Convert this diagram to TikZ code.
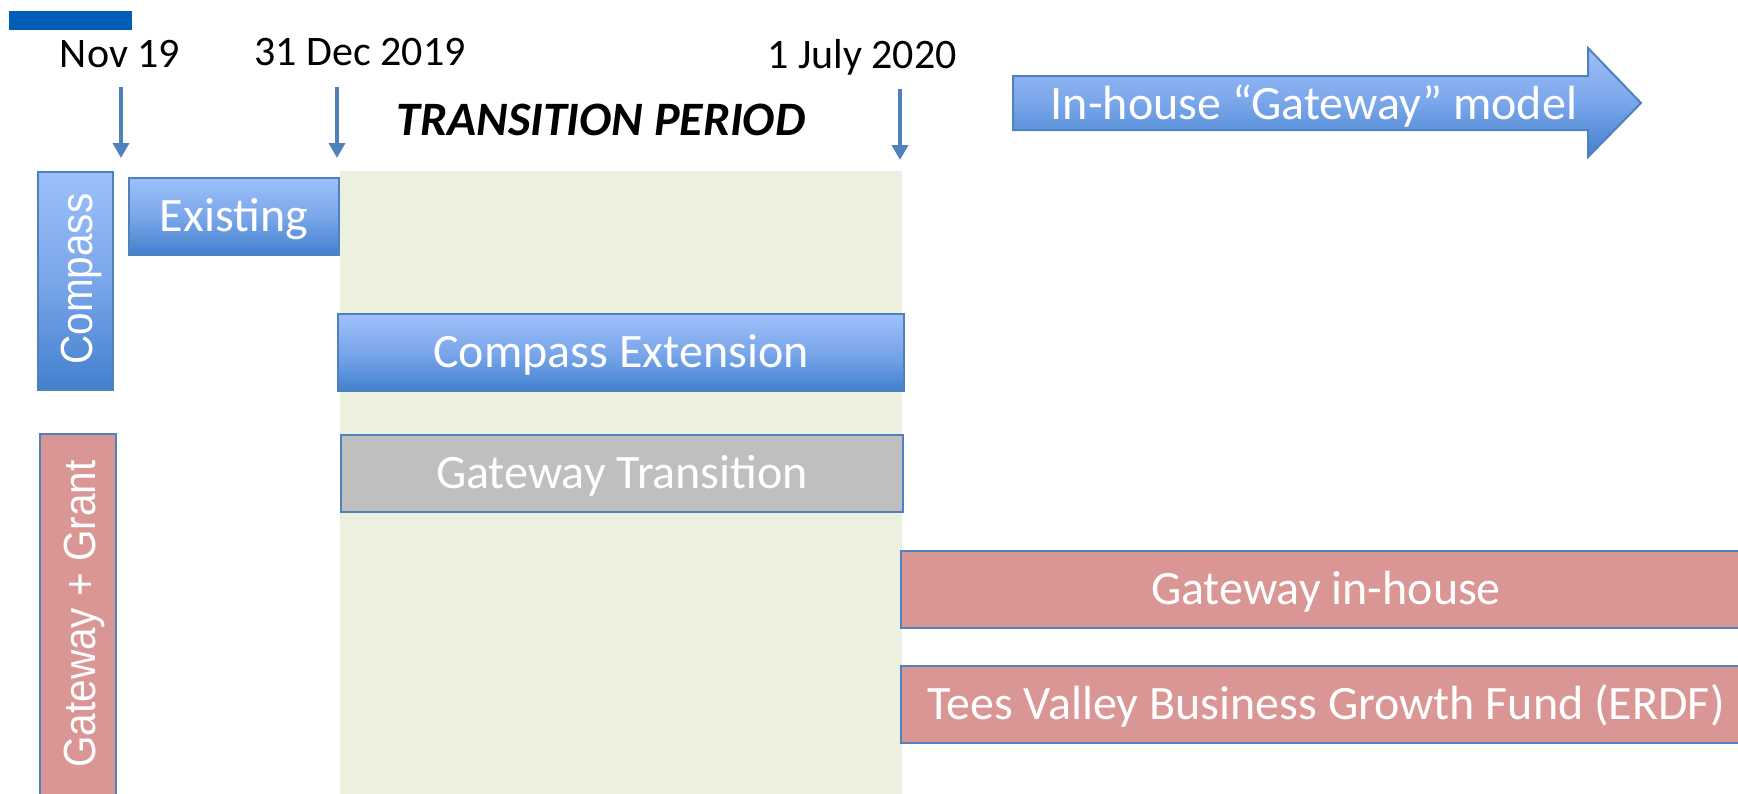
\documentclass[tikz,border=0pt]{standalone}
\usepackage{fontspec}
\usepackage{graphicx}
\setmainfont{Carlito}
\newfontfamily\vfont{Liberation Sans}
\usetikzlibrary{arrows.meta}
\definecolor{bord}{HTML}{4F81BD}
\definecolor{btop}{HTML}{9DC0FA}
\definecolor{bmid}{HTML}{7AA6EA}
\definecolor{bbot}{HTML}{4280CD}
\definecolor{redf}{HTML}{D99694}
\definecolor{grayf}{HTML}{BFBFBF}
\definecolor{greenf}{HTML}{EBF0DF}
\definecolor{barblue}{HTML}{005EB8}
\tikzset{
  boxbase/.style={rectangle, anchor=north west, inner sep=0pt, draw=bord, line width=2pt,
    text=white, font=\fontsize{48}{52}\selectfont, text height=30.5pt, text depth=0pt},
  bluebox/.style={boxbase, top color=btop, bottom color=bbot, middle color=bmid},
  redbox/.style={boxbase, fill=redf},
  graybox/.style={boxbase, fill=grayf},
  vlabel/.style={rectangle, anchor=north west, inner sep=0pt, draw=bord, line width=2pt},
  vtext/.style={rotate=90, text=white, inner sep=0pt, font=\vfont\fontsize{45}{50}\selectfont,
    text height=32pt, text depth=0pt},
  datelbl/.style={anchor=base, inner sep=0pt, font=\fontsize{42}{46}\selectfont, text=black},
  darr/.style={draw=bord, line width=4pt, -{Triangle[width=16pt,length=15pt]}},
}
\begin{document}
\begin{tikzpicture}[x=1pt,y=-1pt]
\useasboundingbox (0,0) rectangle (1738,793);
% transition period background
\fill[greenf] (340,171) rectangle (902,800);
% top-left blue bar
\fill[barblue] (9,11) rectangle (132,30);
% dates
\node[datelbl] (nov) at (120,67) {Nov 19};
\node[datelbl] (dec) at (360,65) {31 Dec 2019};
\node[datelbl] (jul) at (862,68) {1 July 2020};
\node[anchor=base, inner sep=0pt, font=\bfseries\itshape\fontsize{48}{52}\selectfont] (tp) at (601,135) {TRANSITION PERIOD};
% down arrows
\coordinate (a1s) at (121,87); \coordinate (a1e) at (121,158);
\coordinate (a2s) at (337,87); \coordinate (a2e) at (337,158);
\coordinate (a3s) at (900,89); \coordinate (a3e) at (900,160);
\draw[darr] (a1s) -- (a1e);
\draw[darr] (a2s) -- (a2e);
\draw[darr] (a3s) -- (a3e);
% big arrow
\path[draw=bord, line width=2pt, top color=btop, bottom color=bbot, middle color=bmid]
  (1013,76) -- (1588,76) -- (1588,48) -- (1641,103) -- (1588,157) -- (1588,130) -- (1013,130) -- cycle;
\node[anchor=base, inner sep=0pt, text=white, font=\fontsize{48}{52}\selectfont] (model) at (1314,119) {In-house “Gateway” model};
% vertical group labels
\node[vlabel, top color=btop, bottom color=bbot, middle color=bmid, minimum width=75pt, minimum height=218pt] (compass) at (37,171) {};
\node[vtext] (compasst) at (76,279) {\scalebox{0.9}[1]{Compass}};
\node[vlabel, fill=redf, minimum width=76pt, minimum height=380pt] (gg) at (39,433) {};
\node[vtext] (ggt) at (79,614) {\scalebox{0.9}[1]{Gateway + Grant}};
% boxes
\node[bluebox, minimum width=210pt, minimum height=77pt] (exist) at (128,177) {Existing};
\node[bluebox, minimum width=566pt, minimum height=77pt] (cext) at (337,313) {Compass Extension};
\node[graybox, minimum width=562pt, minimum height=77pt] (gtrans) at (340,434) {Gateway Transition};
\node[redbox, minimum width=850pt, minimum height=77pt] (ginh) at (900,550) {Gateway in-house};
\node[redbox, minimum width=850pt, minimum height=77pt] (tvbgf) at (900,665) {Tees Valley Business Growth Fund (ERDF)};
\end{tikzpicture}
\end{document}
